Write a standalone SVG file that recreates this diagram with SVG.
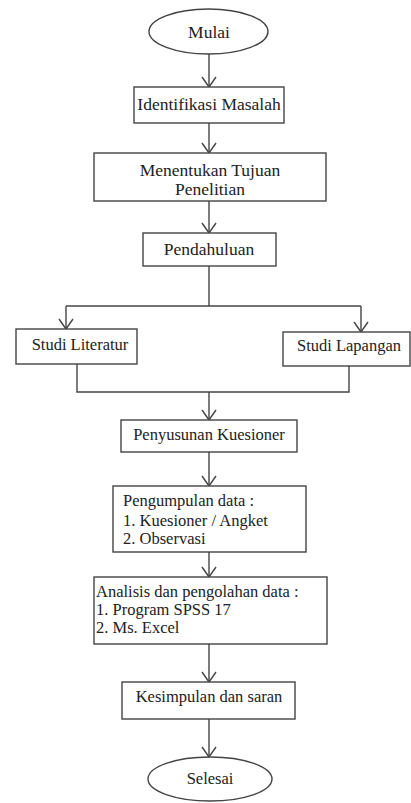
<svg xmlns="http://www.w3.org/2000/svg" width="411" height="803" viewBox="0 0 411 803">
<defs>
<style>
.box{fill:#fff;stroke:#444;stroke-width:1.4}
text{font-family:'Liberation Serif','DejaVu Serif',serif;fill:#222;font-size:16.5px}
.tl{font-size:17.5px}
.c{text-anchor:middle}
.ln{fill:none;stroke:#444;stroke-width:1.4}
</style>
<marker id="arr" viewBox="0 0 16 16" markerWidth="16" markerHeight="16" refX="14" refY="8" orient="auto" markerUnits="userSpaceOnUse">
<path d="M4,1 L14,8 L4,15" fill="none" stroke="#444" stroke-width="1.4"/>
</marker>
</defs>
<rect width="411" height="803" fill="#fff"/>
<g id="connectors">
<line class="ln" x1="209" y1="54" x2="209" y2="87" marker-end="url(#arr)"/>
<line class="ln" x1="209" y1="123" x2="209" y2="153" marker-end="url(#arr)"/>
<line class="ln" x1="209" y1="201" x2="209" y2="233" marker-end="url(#arr)"/>
<polyline class="ln" points="209,266 209,306"/>
<polyline class="ln" points="66,306 361,306"/>
<line class="ln" x1="66" y1="306" x2="66" y2="329" marker-end="url(#arr)"/>
<line class="ln" x1="361" y1="306" x2="361" y2="332" marker-end="url(#arr)"/>
<polyline class="ln" points="77,364 77,392 349,392 349,366"/>
<line class="ln" x1="209" y1="392" x2="209" y2="420" marker-end="url(#arr)"/>
<line class="ln" x1="209" y1="452" x2="209" y2="486" marker-end="url(#arr)"/>
<line class="ln" x1="209" y1="552" x2="209" y2="577" marker-end="url(#arr)"/>
<line class="ln" x1="209" y1="644" x2="209" y2="682" marker-end="url(#arr)"/>
<line class="ln" x1="209" y1="719" x2="209" y2="757" marker-end="url(#arr)"/>
</g>
<g id="mulai">
<ellipse class="box" cx="208.5" cy="31.5" rx="59.5" ry="22.5"/>
<text class="tl c" x="209" y="38" font-family="Liberation Serif, serif">Mulai</text>
</g>
<g id="identifikasi">
<rect class="box" x="134" y="87" width="150" height="36"/>
<text class="tl c" x="209" y="110" font-family="Liberation Serif, serif">Identifikasi Masalah</text>
</g>
<g id="menentukan">
<rect class="box" x="94" y="153" width="232" height="48"/>
<text class="tl c" x="210" y="176" font-family="Liberation Serif, serif">Menentukan Tujuan</text>
<text class="tl c" x="210" y="195" font-family="Liberation Serif, serif">Penelitian</text>
</g>
<g id="pendahuluan">
<rect class="box" x="143" y="233" width="133" height="33"/>
<text class="tl c" x="209" y="255" font-family="Liberation Serif, serif">Pendahuluan</text>
</g>
<g id="studi-literatur">
<rect class="box" x="16" y="329" width="121" height="35"/>
<text class="c" x="80" y="350" font-family="Liberation Serif, serif">Studi Literatur</text>
</g>
<g id="studi-lapangan">
<rect class="box" x="283" y="332" width="127" height="34"/>
<text class="c" x="349" y="351" font-family="Liberation Serif, serif">Studi Lapangan</text>
</g>
<g id="penyusunan">
<rect class="box" x="121" y="420" width="176" height="32"/>
<text class="c" x="209" y="440" font-family="Liberation Serif, serif">Penyusunan Kuesioner</text>
</g>
<g id="pengumpulan">
<rect class="box" x="113" y="486" width="193" height="66"/>
<text x="123" y="506" font-family="Liberation Serif, serif">Pengumpulan data :</text>
<text x="123" y="526" font-family="Liberation Serif, serif">1. Kuesioner / Angket</text>
<text x="123" y="544" font-family="Liberation Serif, serif">2. Observasi</text>
</g>
<g id="analisis">
<rect class="box" x="94" y="577" width="233" height="67"/>
<text x="96" y="597" font-family="Liberation Serif, serif">Analisis dan pengolahan data :</text>
<text x="96" y="615" font-family="Liberation Serif, serif">1. Program SPSS 17</text>
<text x="96" y="633" font-family="Liberation Serif, serif">2. Ms. Excel</text>
</g>
<g id="kesimpulan">
<rect class="box" x="122" y="682" width="173" height="37"/>
<text class="c" x="209" y="702" font-family="Liberation Serif, serif">Kesimpulan dan saran</text>
</g>
<g id="selesai">
<ellipse class="box" cx="210" cy="779" rx="62" ry="22"/>
<text class="c" x="210" y="784" font-family="Liberation Serif, serif">Selesai</text>
</g>
</svg>
